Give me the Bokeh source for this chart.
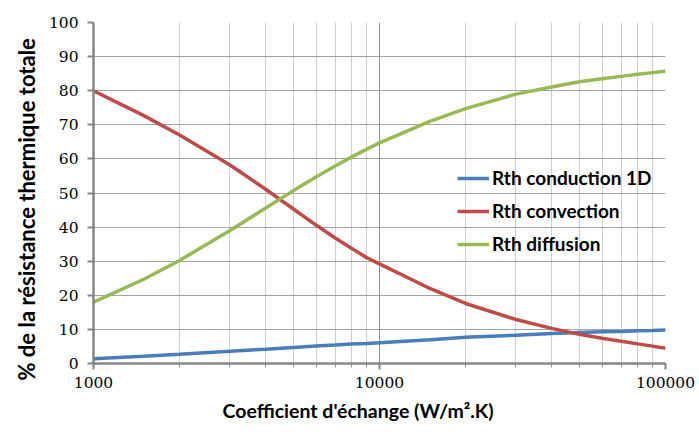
from bokeh.plotting import figure
from bokeh.models import (FixedTicker, LogTicker, BasicTickFormatter, Legend, LegendItem, Range1d, Title)
from bokeh.embed import file_html
from bokeh.resources import INLINE

# Data
h_coef = [1000, 1500, 2000, 3000, 4000, 5000, 6000, 7000, 8000, 9000, 10000,
          15000, 20000, 30000, 40000, 50000, 60000, 70000, 80000, 90000, 100000]
rth_conduction = [1.4, 2.1, 2.7, 3.6, 4.2, 4.7, 5.1, 5.4, 5.7, 5.9, 6.1,
                  7.0, 7.7, 8.3, 8.8, 9.1, 9.3, 9.4, 9.6, 9.7, 9.8]
rth_convection = [80.0, 72.7, 67.0, 58.2, 51.1, 45.3, 40.6, 36.8, 33.7, 31.1, 29.2,
                  22.0, 17.6, 12.9, 10.3, 8.55, 7.4, 6.5, 5.75, 5.1, 4.5]
rth_diffusion = [18.0, 24.7, 30.2, 39.0, 45.6, 50.7, 54.7, 57.9, 60.6, 62.8, 64.7,
                 71.0, 74.75, 79.0, 81.1, 82.6, 83.5, 84.2, 84.8, 85.3, 85.7]
y_ticks = [0, 10, 20, 30, 40, 50, 60, 70, 80, 90, 100]
series_names = ["Rth conduction 1D", "Rth convection", "Rth diffusion"]
x_title = "Coefficient d'échange (W/m².K)"
y_title = "% de la résistance thermique totale"

TITLE_FONT = "Lato"
TICK_FONT = "DejaVu Serif"

p = figure(width=699, height=432, x_axis_type="log",
           x_range=Range1d(1000, 100000), y_range=Range1d(0, 100),
           output_backend="svg", toolbar_location=None,
           min_border_left=93, min_border_right=34, min_border_top=22, min_border_bottom=69)
p.outline_line_color = None
p.background_fill_color = "white"

# Grid
p.ygrid.ticker = FixedTicker(ticks=y_ticks)
p.ygrid.grid_line_color = "#a2a2a2"
p.ygrid.grid_line_width = 1
p.xgrid.ticker = LogTicker(num_minor_ticks=10)
p.xgrid.grid_line_color = "#909090"
p.xgrid.minor_grid_line_color = "#cfcfcf"
p.xgrid.minor_grid_line_width = 1

# Axes
p.yaxis.ticker = FixedTicker(ticks=y_ticks)
p.xaxis.ticker = LogTicker(num_minor_ticks=10)
p.xaxis.formatter = BasicTickFormatter(use_scientific=False)
for ax in (p.xaxis[0], p.yaxis[0]):
    ax.axis_line_color = "#868686"
    ax.axis_line_width = 2.5
    ax.major_tick_line_color = "#868686"
    ax.major_tick_line_width = 2
    ax.major_tick_in = 0
    ax.major_tick_out = 6
    ax.minor_tick_line_color = "#868686"
    ax.minor_tick_in = 0
    ax.minor_tick_out = 4
    ax.major_label_text_font = TICK_FONT
    ax.major_label_text_font_size = "15.5px"
    ax.major_label_text_color = "black"
p.yaxis.minor_tick_out = 0
p.xaxis.major_label_standoff = 7
p.yaxis.major_label_standoff = 9

# Axis titles (as titles so they can be offset like in the reference)
xt = Title(text=x_title, align="left", offset=129, standoff=13,
           text_font=TITLE_FONT, text_font_style="bold", text_font_size="19.5px",
           text_color="black")
p.add_layout(xt, "below")
yt = Title(text=y_title, align="left", offset=-17, standoff=12,
           text_font=TITLE_FONT, text_font_style="bold", text_font_size="22px",
           text_color="black")
p.add_layout(yt, "left")

colors = ["#4a7ebb", "#be4b48", "#98b954"]
r1 = p.line(h_coef, rth_conduction, line_color=colors[0], line_width=3.5)
r2 = p.line(h_coef, rth_convection, line_color=colors[1], line_width=3.5)
r3 = p.line(h_coef, rth_diffusion, line_color=colors[2], line_width=3.5)

legend = Legend(items=[LegendItem(label=series_names[0], renderers=[r1]),
                       LegendItem(label=series_names[1], renderers=[r2]),
                       LegendItem(label=series_names[2], renderers=[r3])],
                location=(364, 108), orientation="vertical")
legend.background_fill_alpha = 0
legend.border_line_color = None
legend.padding = 0
legend.margin = 0
legend.spacing = 10
legend.glyph_width = 32
legend.glyph_height = 20
legend.label_height = 20
legend.label_standoff = 3
legend.label_text_font = TITLE_FONT
legend.label_text_font_style = "bold"
legend.label_text_font_size = "19px"
legend.label_text_color = "black"
p.add_layout(legend, "center")

open("out.html", "w").write(file_html(p, INLINE))
